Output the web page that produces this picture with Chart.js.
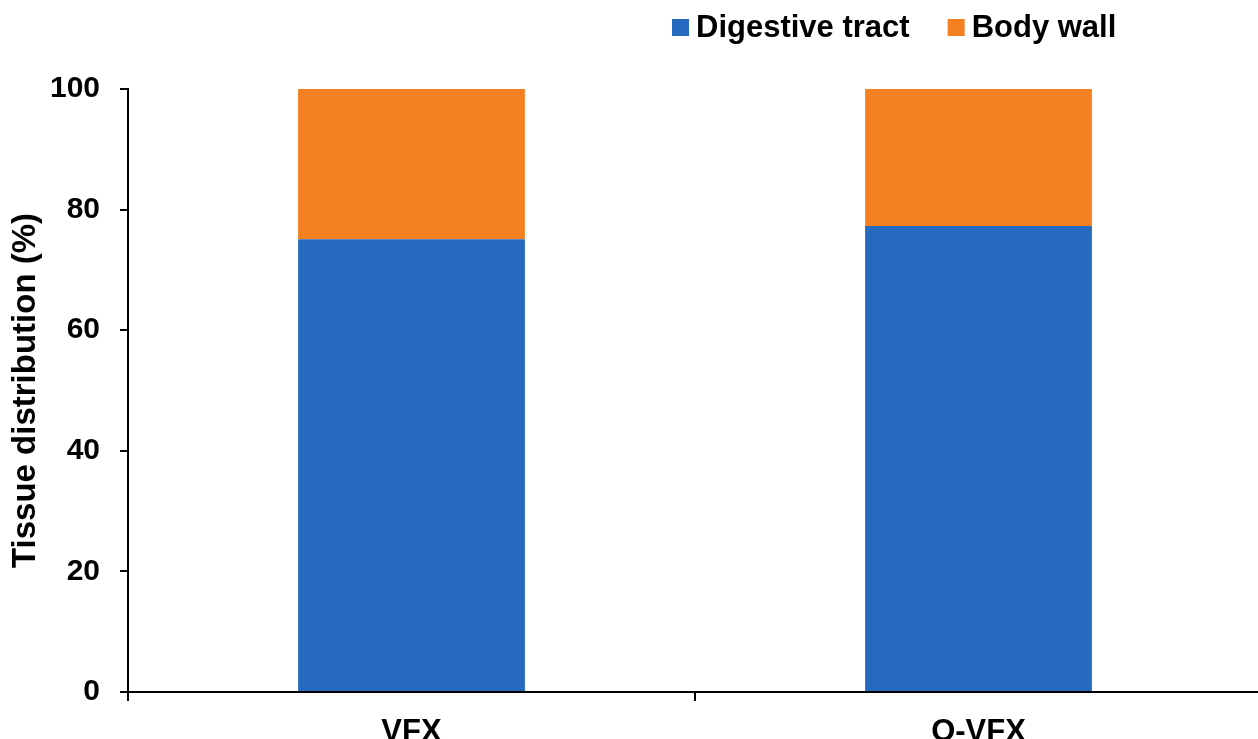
<!DOCTYPE html>
<html>
<head>
<meta charset="utf-8">
<script src="https://cdn.jsdelivr.net/npm/chart.js@4/dist/chart.umd.min.js"></script>
<style>
  html, body { margin: 0; padding: 0; background: #fff; overflow: hidden; }
  #wrap { position: relative; width: 1262px; height: 760px; }
</style>
</head>
<body>
<div id="wrap"><canvas id="tissueChart"></canvas></div>
<script>
// values (%)
const groups = ['VFX', 'O-VFX'];
const digestiveTract = [75.1, 77.3];
const bodyWall = [24.9, 22.7];
const yTicks = [0, 20, 40, 60, 80, 100];

const FONT = '"Liberation Sans", Arial, sans-serif';

// simple legend drawn at the top right, like the original figure
const topLegend = {
    id: 'topLegend',
    afterDraw(chart) {
        const ctx = chart.ctx;
        ctx.save();
        ctx.font = 'bold 31px ' + FONT;
        ctx.textBaseline = 'middle';
        let x = 672;
        const y = 28;
        chart.data.datasets.forEach(ds => {
            ctx.fillStyle = ds.backgroundColor;
            ctx.fillRect(x, y - 9, 17, 17);
            ctx.fillStyle = '#000';
            ctx.fillText(ds.label, x + 24, y);
            x += 24 + ctx.measureText(ds.label).width + 38;
        });
        ctx.restore();
    }
};

const ctx = document.getElementById('tissueChart').getContext('2d');

new Chart(ctx, {
    type: 'bar',
    data: {
        labels: groups,
        datasets: [
            {
                label: 'Digestive tract',
                data: digestiveTract,
                backgroundColor: '#266AC0',
                barPercentage: 0.4,
                categoryPercentage: 1
            },
            {
                label: 'Body wall',
                data: bodyWall,
                backgroundColor: '#F58022',
                barPercentage: 0.4,
                categoryPercentage: 1
            }
        ]
    },
    options: {
        responsive: true,
        maintainAspectRatio: false,
        animation: false,
        layout: { padding: { top: 89, right: 0, bottom: 0, left: 0 } },
        plugins: {
            legend: { display: false },
            tooltip: { enabled: false }
        },
        scales: {
            x: {
                stacked: true,
                afterFit: scale => { scale.height = 68; },
                grid: {
                    offset: true,
                    drawOnChartArea: false,
                    color: '#000',
                    lineWidth: 2,
                    tickLength: 9
                },
                border: { color: '#000', width: 2 },
                ticks: {
                    color: '#000',
                    padding: 13,
                    font: { family: FONT, size: 31, weight: 'bold' }
                }
            },
            y: {
                stacked: true,
                min: 0,
                max: 100,
                afterFit: scale => { scale.width = 128; },
                afterBuildTicks: scale => {
                    scale.ticks = yTicks.map(v => ({ value: v }));
                },
                grid: {
                    drawOnChartArea: false,
                    color: '#000',
                    lineWidth: 2,
                    tickLength: 8
                },
                border: { color: '#000', width: 2 },
                ticks: {
                    color: '#000',
                    padding: 20,
                    font: { family: FONT, size: 30, weight: 'bold' }
                },
                title: {
                    display: true,
                    text: 'Tissue distribution (%)',
                    color: '#000',
                    padding: { top: 6 },
                    font: { family: FONT, size: 33, weight: 'bold' }
                }
            }
        }
    },
    plugins: [topLegend]
});
</script>
</body>
</html>
